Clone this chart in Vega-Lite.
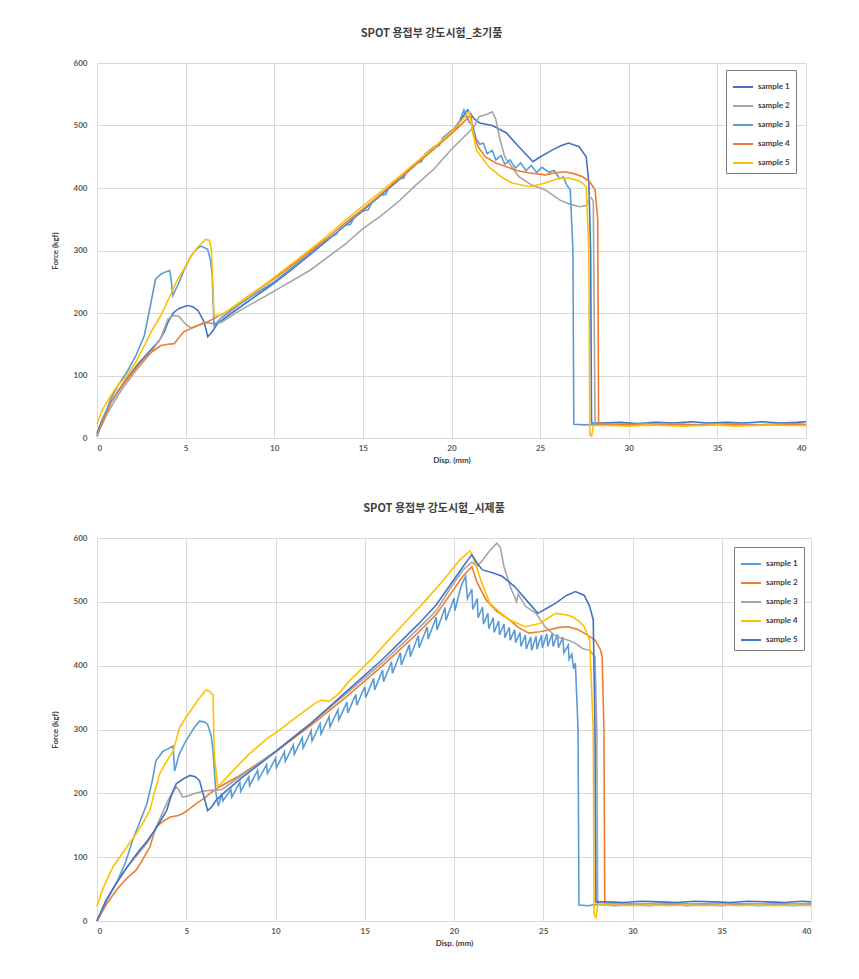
{
  "$schema": "https://vega.github.io/schema/vega-lite/v6.json",
  "padding": {"top": 28, "left": 51, "right": 5, "bottom": 5},
  "background": "white",
  "spacing": 39,
  "align": "none",
  "resolve": {"scale": {"color": "independent"}, "legend": {"color": "independent"}},
  "config": {
    "view": {"stroke": null},
    "font": "Lato",
    "axis": {"grid": true, "gridColor": "#d9d9d9", "domainColor": "#d9d9d9", "ticks": false, "labelColor": "#595959", "labelFontSize": 8, "labelFontWeight": "bold", "labelFont": "Lato", "titleFont": "Lato", "titleFontSize": 8, "titleFontWeight": "bold", "titleColor": "#404040"},
    "title": {"font": "Noto Sans CJK KR", "fontSize": 11, "fontWeight": "bold", "color": "#404040", "dx": -20, "offset": 20},
    "legend": {"title": null, "orient": "none", "symbolType": "stroke", "symbolStrokeWidth": 2, "symbolSize": 400, "labelFontSize": 8, "labelFont": "Lato", "labelFontWeight": "bold", "labelColor": "#404040", "strokeColor": "#7f7f7f", "fillColor": "white", "padding": 6, "rowPadding": 4, "labelOffset": 4}
  },
  "vconcat": [
    {
      "title": "SPOT 용접부 강도시험_초기품",
      "width": 709, "height": 375,
      "data": {"values": [
        {"s":"sample 1","x":0,"y":8},{"s":"sample 1","x":0.3,"y":30},{"s":"sample 1","x":0.8,"y":58},{"s":"sample 1","x":1.5,"y":88},{"s":"sample 1","x":2.3,"y":118},{"s":"sample 1","x":3.0,"y":140},{"s":"sample 1","x":3.5,"y":155},{"s":"sample 1","x":3.8,"y":170},{"s":"sample 1","x":4.0,"y":185},{"s":"sample 1","x":4.3,"y":200},{"s":"sample 1","x":4.6,"y":207},{"s":"sample 1","x":5.1,"y":212},{"s":"sample 1","x":5.4,"y":210},{"s":"sample 1","x":5.7,"y":204},{"s":"sample 1","x":6.05,"y":185},{"s":"sample 1","x":6.25,"y":162},{"s":"sample 1","x":6.5,"y":170},{"s":"sample 1","x":6.8,"y":183},{"s":"sample 1","x":7.5,"y":198},{"s":"sample 1","x":8.5,"y":218},{"s":"sample 1","x":10,"y":248},{"s":"sample 1","x":11,"y":270},{"s":"sample 1","x":12,"y":293},{"s":"sample 1","x":13,"y":316},{"s":"sample 1","x":14,"y":340},{"s":"sample 1","x":15,"y":364},{"s":"sample 1","x":16,"y":388},{"s":"sample 1","x":17,"y":412},{"s":"sample 1","x":18,"y":438},{"s":"sample 1","x":19,"y":463},{"s":"sample 1","x":20,"y":490},{"s":"sample 1","x":20.5,"y":508},{"s":"sample 1","x":20.9,"y":525},{"s":"sample 1","x":21.3,"y":510},{"s":"sample 1","x":21.6,"y":504},{"s":"sample 1","x":22.3,"y":500},{"s":"sample 1","x":23.1,"y":488},{"s":"sample 1","x":23.8,"y":466},{"s":"sample 1","x":24.6,"y":442},{"s":"sample 1","x":24.9,"y":448},{"s":"sample 1","x":25.7,"y":461},{"s":"sample 1","x":26.2,"y":468},{"s":"sample 1","x":26.6,"y":472},{"s":"sample 1","x":27.2,"y":466},{"s":"sample 1","x":27.6,"y":450},{"s":"sample 1","x":27.75,"y":408},{"s":"sample 1","x":27.85,"y":300},{"s":"sample 1","x":27.9,"y":24},{"s":"sample 1","x":28.5,"y":24},{"s":"sample 1","x":29.5,"y":25},{"s":"sample 1","x":30.5,"y":23},{"s":"sample 1","x":31.5,"y":25},{"s":"sample 1","x":32.5,"y":24},{"s":"sample 1","x":33.5,"y":26},{"s":"sample 1","x":34.5,"y":24},{"s":"sample 1","x":35.5,"y":25},{"s":"sample 1","x":36.5,"y":24},{"s":"sample 1","x":37.5,"y":26},{"s":"sample 1","x":38.5,"y":24},{"s":"sample 1","x":39.5,"y":25},{"s":"sample 1","x":40,"y":26},

        {"s":"sample 2","x":0,"y":5},{"s":"sample 2","x":0.5,"y":35},{"s":"sample 2","x":1,"y":60},{"s":"sample 2","x":1.5,"y":82},{"s":"sample 2","x":2.2,"y":108},{"s":"sample 2","x":3.0,"y":135},{"s":"sample 2","x":3.6,"y":160},{"s":"sample 2","x":4.0,"y":190},{"s":"sample 2","x":4.3,"y":196},{"s":"sample 2","x":4.6,"y":195},{"s":"sample 2","x":5.0,"y":182},{"s":"sample 2","x":5.3,"y":176},{"s":"sample 2","x":5.7,"y":180},{"s":"sample 2","x":6.05,"y":185},{"s":"sample 2","x":6.6,"y":183},{"s":"sample 2","x":7,"y":185},{"s":"sample 2","x":8,"y":203},{"s":"sample 2","x":10,"y":235},{"s":"sample 2","x":12,"y":268},{"s":"sample 2","x":14,"y":310},{"s":"sample 2","x":15,"y":335},{"s":"sample 2","x":16,"y":355},{"s":"sample 2","x":17,"y":378},{"s":"sample 2","x":18,"y":405},{"s":"sample 2","x":19,"y":430},{"s":"sample 2","x":20,"y":462},{"s":"sample 2","x":21,"y":490},{"s":"sample 2","x":21.3,"y":500},{"s":"sample 2","x":21.56,"y":514},{"s":"sample 2","x":22.0,"y":518},{"s":"sample 2","x":22.3,"y":522},{"s":"sample 2","x":22.5,"y":510},{"s":"sample 2","x":22.7,"y":482},{"s":"sample 2","x":23.0,"y":450},{"s":"sample 2","x":23.8,"y":418},{"s":"sample 2","x":24.5,"y":405},{"s":"sample 2","x":25.3,"y":397},{"s":"sample 2","x":26.1,"y":381},{"s":"sample 2","x":26.6,"y":375},{"s":"sample 2","x":27.2,"y":370},{"s":"sample 2","x":27.6,"y":372},{"s":"sample 2","x":27.8,"y":386},{"s":"sample 2","x":28.0,"y":380},{"s":"sample 2","x":28.05,"y":200},{"s":"sample 2","x":28.1,"y":21},{"s":"sample 2","x":29,"y":22},{"s":"sample 2","x":30,"y":21},{"s":"sample 2","x":31,"y":23},{"s":"sample 2","x":32,"y":21},{"s":"sample 2","x":33,"y":22},{"s":"sample 2","x":34,"y":21},{"s":"sample 2","x":35,"y":23},{"s":"sample 2","x":36,"y":22},{"s":"sample 2","x":37,"y":21},{"s":"sample 2","x":38,"y":22},{"s":"sample 2","x":39,"y":23},{"s":"sample 2","x":40,"y":22},

        {"s":"sample 3","x":0,"y":2},{"s":"sample 3","x":0.4,"y":35},{"s":"sample 3","x":0.8,"y":64},{"s":"sample 3","x":1.2,"y":85},{"s":"sample 3","x":1.7,"y":106},{"s":"sample 3","x":2.2,"y":132},{"s":"sample 3","x":2.67,"y":164},{"s":"sample 3","x":3.0,"y":210},{"s":"sample 3","x":3.3,"y":254},{"s":"sample 3","x":3.6,"y":262},{"s":"sample 3","x":3.8,"y":265},{"s":"sample 3","x":4.1,"y":268},{"s":"sample 3","x":4.2,"y":250},{"s":"sample 3","x":4.27,"y":228},{"s":"sample 3","x":4.55,"y":244},{"s":"sample 3","x":4.9,"y":268},{"s":"sample 3","x":5.3,"y":291},{"s":"sample 3","x":5.6,"y":302},{"s":"sample 3","x":5.86,"y":307},{"s":"sample 3","x":6.24,"y":302},{"s":"sample 3","x":6.4,"y":285},{"s":"sample 3","x":6.5,"y":260},{"s":"sample 3","x":6.6,"y":180},{"s":"sample 3","x":7,"y":192},{"s":"sample 3","x":8,"y":213},{"s":"sample 3","x":9,"y":232},{"s":"sample 3","x":10,"y":250},{"s":"sample 3","x":11,"y":272},{"s":"sample 3","x":12,"y":295},{"s":"sample 3","x":13,"y":318},{"s":"sample 3","x":13.5,"y":326},{"s":"sample 3","x":13.7,"y":334},{"s":"sample 3","x":14,"y":340},{"s":"sample 3","x":14.3,"y":342},{"s":"sample 3","x":14.5,"y":352},{"s":"sample 3","x":15,"y":363},{"s":"sample 3","x":15.3,"y":365},{"s":"sample 3","x":15.5,"y":376},{"s":"sample 3","x":16,"y":388},{"s":"sample 3","x":16.3,"y":390},{"s":"sample 3","x":16.5,"y":402},{"s":"sample 3","x":17,"y":414},{"s":"sample 3","x":17.3,"y":416},{"s":"sample 3","x":17.5,"y":428},{"s":"sample 3","x":18,"y":440},{"s":"sample 3","x":18.3,"y":442},{"s":"sample 3","x":18.5,"y":454},{"s":"sample 3","x":19,"y":466},{"s":"sample 3","x":19.3,"y":468},{"s":"sample 3","x":19.5,"y":480},{"s":"sample 3","x":20,"y":492},{"s":"sample 3","x":20.3,"y":495},{"s":"sample 3","x":20.7,"y":525},{"s":"sample 3","x":21.0,"y":505},{"s":"sample 3","x":21.2,"y":500},{"s":"sample 3","x":21.4,"y":478},{"s":"sample 3","x":21.6,"y":470},{"s":"sample 3","x":21.8,"y":472},{"s":"sample 3","x":22.0,"y":455},{"s":"sample 3","x":22.3,"y":460},{"s":"sample 3","x":22.5,"y":445},{"s":"sample 3","x":22.8,"y":452},{"s":"sample 3","x":23.0,"y":438},{"s":"sample 3","x":23.3,"y":445},{"s":"sample 3","x":23.6,"y":432},{"s":"sample 3","x":23.9,"y":440},{"s":"sample 3","x":24.2,"y":428},{"s":"sample 3","x":24.5,"y":436},{"s":"sample 3","x":24.8,"y":425},{"s":"sample 3","x":25.1,"y":433},{"s":"sample 3","x":25.5,"y":425},{"s":"sample 3","x":25.8,"y":428},{"s":"sample 3","x":26.1,"y":415},{"s":"sample 3","x":26.3,"y":418},{"s":"sample 3","x":26.5,"y":405},{"s":"sample 3","x":26.7,"y":397},{"s":"sample 3","x":26.85,"y":300},{"s":"sample 3","x":26.9,"y":22},{"s":"sample 3","x":27.5,"y":21},{"s":"sample 3","x":28.5,"y":22},{"s":"sample 3","x":29.5,"y":21},{"s":"sample 3","x":30.5,"y":22},{"s":"sample 3","x":31.5,"y":21},{"s":"sample 3","x":32.5,"y":22},{"s":"sample 3","x":33.5,"y":21},{"s":"sample 3","x":34.5,"y":22},{"s":"sample 3","x":35.5,"y":21},{"s":"sample 3","x":36.5,"y":22},{"s":"sample 3","x":37.5,"y":21},{"s":"sample 3","x":38.5,"y":22},{"s":"sample 3","x":40,"y":21},

        {"s":"sample 4","x":0,"y":5},{"s":"sample 4","x":0.4,"y":30},{"s":"sample 4","x":0.8,"y":58},{"s":"sample 4","x":1.3,"y":80},{"s":"sample 4","x":1.73,"y":95},{"s":"sample 4","x":2.2,"y":112},{"s":"sample 4","x":2.67,"y":127},{"s":"sample 4","x":3.1,"y":138},{"s":"sample 4","x":3.6,"y":148},{"s":"sample 4","x":4.0,"y":150},{"s":"sample 4","x":4.36,"y":151},{"s":"sample 4","x":4.6,"y":160},{"s":"sample 4","x":4.9,"y":170},{"s":"sample 4","x":5.3,"y":175},{"s":"sample 4","x":5.7,"y":180},{"s":"sample 4","x":6.1,"y":184},{"s":"sample 4","x":6.6,"y":191},{"s":"sample 4","x":7.5,"y":205},{"s":"sample 4","x":8.5,"y":226},{"s":"sample 4","x":10,"y":255},{"s":"sample 4","x":11,"y":276},{"s":"sample 4","x":12,"y":298},{"s":"sample 4","x":13,"y":320},{"s":"sample 4","x":14,"y":344},{"s":"sample 4","x":15,"y":366},{"s":"sample 4","x":16,"y":390},{"s":"sample 4","x":17,"y":414},{"s":"sample 4","x":18,"y":438},{"s":"sample 4","x":19,"y":462},{"s":"sample 4","x":20,"y":487},{"s":"sample 4","x":20.6,"y":503},{"s":"sample 4","x":21.1,"y":518},{"s":"sample 4","x":21.2,"y":488},{"s":"sample 4","x":21.5,"y":466},{"s":"sample 4","x":21.9,"y":450},{"s":"sample 4","x":22.5,"y":440},{"s":"sample 4","x":23.1,"y":434},{"s":"sample 4","x":23.7,"y":428},{"s":"sample 4","x":24.4,"y":424},{"s":"sample 4","x":25.3,"y":421},{"s":"sample 4","x":25.8,"y":424},{"s":"sample 4","x":26.4,"y":426},{"s":"sample 4","x":26.9,"y":423},{"s":"sample 4","x":27.4,"y":418},{"s":"sample 4","x":27.8,"y":410},{"s":"sample 4","x":28.1,"y":397},{"s":"sample 4","x":28.25,"y":350},{"s":"sample 4","x":28.3,"y":22},{"s":"sample 4","x":29,"y":21},{"s":"sample 4","x":30,"y":22},{"s":"sample 4","x":31,"y":20},{"s":"sample 4","x":32,"y":21},{"s":"sample 4","x":33,"y":22},{"s":"sample 4","x":34,"y":20},{"s":"sample 4","x":35,"y":21},{"s":"sample 4","x":36,"y":22},{"s":"sample 4","x":37,"y":20},{"s":"sample 4","x":38,"y":21},{"s":"sample 4","x":39,"y":22},{"s":"sample 4","x":40,"y":21},

        {"s":"sample 5","x":0,"y":22},{"s":"sample 5","x":0.3,"y":45},{"s":"sample 5","x":0.8,"y":69},{"s":"sample 5","x":1.2,"y":85},{"s":"sample 5","x":1.7,"y":100},{"s":"sample 5","x":2.2,"y":122},{"s":"sample 5","x":2.67,"y":148},{"s":"sample 5","x":3.1,"y":172},{"s":"sample 5","x":3.6,"y":196},{"s":"sample 5","x":4.1,"y":226},{"s":"sample 5","x":4.55,"y":254},{"s":"sample 5","x":5.0,"y":275},{"s":"sample 5","x":5.3,"y":291},{"s":"sample 5","x":5.7,"y":306},{"s":"sample 5","x":6.15,"y":318},{"s":"sample 5","x":6.35,"y":316},{"s":"sample 5","x":6.45,"y":300},{"s":"sample 5","x":6.55,"y":240},{"s":"sample 5","x":6.6,"y":196},{"s":"sample 5","x":7,"y":196},{"s":"sample 5","x":8,"y":216},{"s":"sample 5","x":9,"y":236},{"s":"sample 5","x":10,"y":257},{"s":"sample 5","x":11,"y":279},{"s":"sample 5","x":12,"y":301},{"s":"sample 5","x":13,"y":324},{"s":"sample 5","x":14,"y":348},{"s":"sample 5","x":15,"y":371},{"s":"sample 5","x":16,"y":394},{"s":"sample 5","x":17,"y":417},{"s":"sample 5","x":18,"y":441},{"s":"sample 5","x":19,"y":465},{"s":"sample 5","x":20,"y":490},{"s":"sample 5","x":20.7,"y":512},{"s":"sample 5","x":21.0,"y":522},{"s":"sample 5","x":21.2,"y":490},{"s":"sample 5","x":21.4,"y":461},{"s":"sample 5","x":22.1,"y":434},{"s":"sample 5","x":22.8,"y":418},{"s":"sample 5","x":23.4,"y":408},{"s":"sample 5","x":24.4,"y":402},{"s":"sample 5","x":25.3,"y":408},{"s":"sample 5","x":26.1,"y":416},{"s":"sample 5","x":26.6,"y":416},{"s":"sample 5","x":27.0,"y":413},{"s":"sample 5","x":27.3,"y":410},{"s":"sample 5","x":27.6,"y":402},{"s":"sample 5","x":27.75,"y":300},{"s":"sample 5","x":27.8,"y":5},{"s":"sample 5","x":27.9,"y":3},{"s":"sample 5","x":28.0,"y":20},{"s":"sample 5","x":29,"y":20},{"s":"sample 5","x":30,"y":19},{"s":"sample 5","x":31,"y":21},{"s":"sample 5","x":32,"y":20},{"s":"sample 5","x":33,"y":19},{"s":"sample 5","x":34,"y":20},{"s":"sample 5","x":35,"y":21},{"s":"sample 5","x":36,"y":19},{"s":"sample 5","x":37,"y":20},{"s":"sample 5","x":38,"y":21},{"s":"sample 5","x":39,"y":20},{"s":"sample 5","x":40,"y":20}
      ]},
      "mark": {"type": "line", "strokeWidth": 1.6, "interpolate": "linear"},
      "encoding": {
        "x": {"field": "x", "type": "quantitative", "scale": {"domain": [0, 40], "nice": false}, "axis": {"values": [0,5,10,15,20,25,30,35,40], "title": "Disp. (mm)", "labelPadding": 6, "titlePadding": 4}},
        "y": {"field": "y", "type": "quantitative", "scale": {"domain": [0, 600], "nice": false}, "axis": {"values": [0,100,200,300,400,500,600], "title": "Force (kgf)", "labelPadding": 10, "titlePadding": 14}},
        "color": {"field": "s", "type": "nominal", "scale": {"domain": ["sample 1","sample 2","sample 3","sample 4","sample 5"], "range": ["#4472C4","#A5A5A5","#5B9BD5","#ED7D31","#FFC000"]}, "legend": {"legendX": 629, "legendY": 7}}
      }
    },
    {
      "title": "SPOT 용접부 강도시험_시제품",
      "width": 714, "height": 383,
      "data": {"values": [
        {"s":"sample 1","x":0,"y":0},{"s":"sample 1","x":0.5,"y":30},{"s":"sample 1","x":1.1,"y":60},{"s":"sample 1","x":1.6,"y":92},{"s":"sample 1","x":2.0,"y":127},{"s":"sample 1","x":2.4,"y":155},{"s":"sample 1","x":2.8,"y":184},{"s":"sample 1","x":3.1,"y":220},{"s":"sample 1","x":3.3,"y":251},{"s":"sample 1","x":3.7,"y":266},{"s":"sample 1","x":4.0,"y":270},{"s":"sample 1","x":4.26,"y":274},{"s":"sample 1","x":4.35,"y":235},{"s":"sample 1","x":4.6,"y":261},{"s":"sample 1","x":4.9,"y":278},{"s":"sample 1","x":5.2,"y":292},{"s":"sample 1","x":5.5,"y":305},{"s":"sample 1","x":5.74,"y":313},{"s":"sample 1","x":6.0,"y":312},{"s":"sample 1","x":6.2,"y":308},{"s":"sample 1","x":6.4,"y":290},{"s":"sample 1","x":6.5,"y":266},{"s":"sample 1","x":6.67,"y":199},{"s":"sample 1","x":6.8,"y":180},
        {"s":"sample 1","x":7.0,"y":200},{"s":"sample 1","x":7.05,"y":188},{"s":"sample 1","x":7.5,"y":206},{"s":"sample 1","x":7.55,"y":194},{"s":"sample 1","x":8.0,"y":217},{"s":"sample 1","x":8.05,"y":203},{"s":"sample 1","x":8.5,"y":226},{"s":"sample 1","x":8.55,"y":212},{"s":"sample 1","x":9.0,"y":236},{"s":"sample 1","x":9.05,"y":222},{"s":"sample 1","x":9.5,"y":245},{"s":"sample 1","x":9.55,"y":231},{"s":"sample 1","x":10.0,"y":255},{"s":"sample 1","x":10.05,"y":240},{"s":"sample 1","x":10.5,"y":265},{"s":"sample 1","x":10.55,"y":250},{"s":"sample 1","x":11.0,"y":276},{"s":"sample 1","x":11.05,"y":261},{"s":"sample 1","x":11.5,"y":287},{"s":"sample 1","x":11.55,"y":271},{"s":"sample 1","x":12.0,"y":298},{"s":"sample 1","x":12.05,"y":282},{"s":"sample 1","x":12.5,"y":309},{"s":"sample 1","x":12.55,"y":293},{"s":"sample 1","x":13.0,"y":320},{"s":"sample 1","x":13.05,"y":304},{"s":"sample 1","x":13.5,"y":331},{"s":"sample 1","x":13.55,"y":315},{"s":"sample 1","x":14.0,"y":343},{"s":"sample 1","x":14.05,"y":326},{"s":"sample 1","x":14.5,"y":355},{"s":"sample 1","x":14.55,"y":338},{"s":"sample 1","x":15.0,"y":367},{"s":"sample 1","x":15.05,"y":350},{"s":"sample 1","x":15.5,"y":380},{"s":"sample 1","x":15.55,"y":362},{"s":"sample 1","x":16.0,"y":393},{"s":"sample 1","x":16.05,"y":375},{"s":"sample 1","x":16.5,"y":406},{"s":"sample 1","x":16.55,"y":388},{"s":"sample 1","x":17.0,"y":420},{"s":"sample 1","x":17.05,"y":401},{"s":"sample 1","x":17.5,"y":433},{"s":"sample 1","x":17.55,"y":414},{"s":"sample 1","x":18.0,"y":447},{"s":"sample 1","x":18.05,"y":428},{"s":"sample 1","x":18.5,"y":461},{"s":"sample 1","x":18.55,"y":442},{"s":"sample 1","x":19.0,"y":476},{"s":"sample 1","x":19.05,"y":456},{"s":"sample 1","x":19.5,"y":491},{"s":"sample 1","x":19.55,"y":471},{"s":"sample 1","x":20.0,"y":506},{"s":"sample 1","x":20.05,"y":486},{"s":"sample 1","x":20.4,"y":525},{"s":"sample 1","x":20.65,"y":540},{"s":"sample 1","x":20.75,"y":505},{"s":"sample 1","x":21.0,"y":520},{"s":"sample 1","x":21.05,"y":488},{"s":"sample 1","x":21.3,"y":505},{"s":"sample 1","x":21.35,"y":475},{"s":"sample 1","x":21.6,"y":492},{"s":"sample 1","x":21.65,"y":465},{"s":"sample 1","x":21.9,"y":482},{"s":"sample 1","x":21.95,"y":458},{"s":"sample 1","x":22.2,"y":475},{"s":"sample 1","x":22.25,"y":452},{"s":"sample 1","x":22.5,"y":470},{"s":"sample 1","x":22.55,"y":448},{"s":"sample 1","x":22.8,"y":465},{"s":"sample 1","x":22.85,"y":444},{"s":"sample 1","x":23.1,"y":460},{"s":"sample 1","x":23.15,"y":440},{"s":"sample 1","x":23.4,"y":456},{"s":"sample 1","x":23.45,"y":436},{"s":"sample 1","x":23.7,"y":452},{"s":"sample 1","x":23.75,"y":430},{"s":"sample 1","x":24.0,"y":448},{"s":"sample 1","x":24.05,"y":426},{"s":"sample 1","x":24.3,"y":445},{"s":"sample 1","x":24.35,"y":424},{"s":"sample 1","x":24.6,"y":446},{"s":"sample 1","x":24.65,"y":426},{"s":"sample 1","x":24.9,"y":448},{"s":"sample 1","x":24.95,"y":428},{"s":"sample 1","x":25.2,"y":450},{"s":"sample 1","x":25.25,"y":430},{"s":"sample 1","x":25.5,"y":450},{"s":"sample 1","x":25.55,"y":430},{"s":"sample 1","x":25.8,"y":449},{"s":"sample 1","x":25.85,"y":428},{"s":"sample 1","x":26.1,"y":445},{"s":"sample 1","x":26.15,"y":420},{"s":"sample 1","x":26.4,"y":432},{"s":"sample 1","x":26.45,"y":410},{"s":"sample 1","x":26.6,"y":418},{"s":"sample 1","x":26.7,"y":395},{"s":"sample 1","x":26.8,"y":404},{"s":"sample 1","x":26.95,"y":300},{"s":"sample 1","x":27.0,"y":25},{"s":"sample 1","x":27.5,"y":24},{"s":"sample 1","x":28,"y":26},{"s":"sample 1","x":29,"y":24},{"s":"sample 1","x":30,"y":25},{"s":"sample 1","x":31,"y":24},{"s":"sample 1","x":32,"y":26},{"s":"sample 1","x":33,"y":24},{"s":"sample 1","x":34,"y":25},{"s":"sample 1","x":35,"y":24},{"s":"sample 1","x":36,"y":26},{"s":"sample 1","x":37,"y":24},{"s":"sample 1","x":38,"y":25},{"s":"sample 1","x":39,"y":24},{"s":"sample 1","x":40,"y":25},

        {"s":"sample 2","x":0,"y":0},{"s":"sample 2","x":0.5,"y":25},{"s":"sample 2","x":1.1,"y":49},{"s":"sample 2","x":1.6,"y":65},{"s":"sample 2","x":2.2,"y":80},{"s":"sample 2","x":2.6,"y":98},{"s":"sample 2","x":2.96,"y":116},{"s":"sample 2","x":3.3,"y":147},{"s":"sample 2","x":3.7,"y":156},{"s":"sample 2","x":4.1,"y":163},{"s":"sample 2","x":4.5,"y":165},{"s":"sample 2","x":4.8,"y":168},{"s":"sample 2","x":5.2,"y":176},{"s":"sample 2","x":5.55,"y":184},{"s":"sample 2","x":6.0,"y":192},{"s":"sample 2","x":6.3,"y":199},{"s":"sample 2","x":6.85,"y":210},{"s":"sample 2","x":8,"y":228},{"s":"sample 2","x":10,"y":265},{"s":"sample 2","x":12,"y":307},{"s":"sample 2","x":14,"y":352},{"s":"sample 2","x":16,"y":400},{"s":"sample 2","x":18,"y":452},{"s":"sample 2","x":19,"y":480},{"s":"sample 2","x":20,"y":520},{"s":"sample 2","x":20.5,"y":540},{"s":"sample 2","x":21.0,"y":555},{"s":"sample 2","x":21.3,"y":530},{"s":"sample 2","x":21.8,"y":503},{"s":"sample 2","x":22.4,"y":485},{"s":"sample 2","x":23.1,"y":472},{"s":"sample 2","x":23.6,"y":460},{"s":"sample 2","x":24.2,"y":451},{"s":"sample 2","x":24.8,"y":453},{"s":"sample 2","x":25.3,"y":456},{"s":"sample 2","x":25.9,"y":460},{"s":"sample 2","x":26.4,"y":461},{"s":"sample 2","x":26.9,"y":457},{"s":"sample 2","x":27.3,"y":451},{"s":"sample 2","x":27.9,"y":440},{"s":"sample 2","x":28.2,"y":425},{"s":"sample 2","x":28.3,"y":414},{"s":"sample 2","x":28.4,"y":300},{"s":"sample 2","x":28.45,"y":27},{"s":"sample 2","x":29,"y":26},{"s":"sample 2","x":30,"y":27},{"s":"sample 2","x":31,"y":26},{"s":"sample 2","x":32,"y":27},{"s":"sample 2","x":33,"y":26},{"s":"sample 2","x":34,"y":27},{"s":"sample 2","x":35,"y":26},{"s":"sample 2","x":36,"y":27},{"s":"sample 2","x":37,"y":26},{"s":"sample 2","x":38,"y":27},{"s":"sample 2","x":39,"y":26},{"s":"sample 2","x":40,"y":27},

        {"s":"sample 3","x":0,"y":0},{"s":"sample 3","x":0.5,"y":32},{"s":"sample 3","x":1.1,"y":60},{"s":"sample 3","x":1.7,"y":85},{"s":"sample 3","x":2.3,"y":105},{"s":"sample 3","x":2.8,"y":122},{"s":"sample 3","x":3.2,"y":140},{"s":"sample 3","x":3.6,"y":165},{"s":"sample 3","x":4.0,"y":190},{"s":"sample 3","x":4.44,"y":210},{"s":"sample 3","x":4.6,"y":205},{"s":"sample 3","x":4.8,"y":194},{"s":"sample 3","x":5.1,"y":196},{"s":"sample 3","x":5.5,"y":200},{"s":"sample 3","x":6.1,"y":204},{"s":"sample 3","x":6.6,"y":205},{"s":"sample 3","x":7,"y":206},{"s":"sample 3","x":8,"y":226},{"s":"sample 3","x":10,"y":266},{"s":"sample 3","x":12,"y":310},{"s":"sample 3","x":14,"y":357},{"s":"sample 3","x":16,"y":405},{"s":"sample 3","x":18,"y":458},{"s":"sample 3","x":19,"y":486},{"s":"sample 3","x":20,"y":530},{"s":"sample 3","x":20.5,"y":550},{"s":"sample 3","x":21.0,"y":562},{"s":"sample 3","x":21.3,"y":556},{"s":"sample 3","x":21.6,"y":565},{"s":"sample 3","x":22.0,"y":580},{"s":"sample 3","x":22.4,"y":592},{"s":"sample 3","x":22.6,"y":585},{"s":"sample 3","x":22.8,"y":555},{"s":"sample 3","x":23.2,"y":520},{"s":"sample 3","x":23.4,"y":508},{"s":"sample 3","x":23.5,"y":500},{"s":"sample 3","x":23.6,"y":512},{"s":"sample 3","x":24.0,"y":493},{"s":"sample 3","x":24.6,"y":482},{"s":"sample 3","x":25.1,"y":461},{"s":"sample 3","x":25.7,"y":446},{"s":"sample 3","x":26.4,"y":440},{"s":"sample 3","x":26.8,"y":435},{"s":"sample 3","x":27.2,"y":427},{"s":"sample 3","x":27.6,"y":424},{"s":"sample 3","x":27.9,"y":414},{"s":"sample 3","x":28.0,"y":300},{"s":"sample 3","x":28.05,"y":26},{"s":"sample 3","x":29,"y":27},{"s":"sample 3","x":30,"y":26},{"s":"sample 3","x":31,"y":27},{"s":"sample 3","x":32,"y":26},{"s":"sample 3","x":33,"y":27},{"s":"sample 3","x":34,"y":26},{"s":"sample 3","x":35,"y":27},{"s":"sample 3","x":36,"y":26},{"s":"sample 3","x":37,"y":27},{"s":"sample 3","x":38,"y":26},{"s":"sample 3","x":39,"y":27},{"s":"sample 3","x":40,"y":26},

        {"s":"sample 4","x":0,"y":23},{"s":"sample 4","x":0.3,"y":48},{"s":"sample 4","x":0.56,"y":65},{"s":"sample 4","x":0.9,"y":85},{"s":"sample 4","x":1.3,"y":101},{"s":"sample 4","x":1.7,"y":117},{"s":"sample 4","x":2.2,"y":137},{"s":"sample 4","x":2.6,"y":155},{"s":"sample 4","x":2.96,"y":173},{"s":"sample 4","x":3.2,"y":200},{"s":"sample 4","x":3.5,"y":230},{"s":"sample 4","x":3.9,"y":250},{"s":"sample 4","x":4.26,"y":266},{"s":"sample 4","x":4.63,"y":303},{"s":"sample 4","x":5.0,"y":320},{"s":"sample 4","x":5.37,"y":334},{"s":"sample 4","x":5.7,"y":348},{"s":"sample 4","x":6.1,"y":362},{"s":"sample 4","x":6.3,"y":360},{"s":"sample 4","x":6.5,"y":354},{"s":"sample 4","x":6.57,"y":261},{"s":"sample 4","x":6.76,"y":210},{"s":"sample 4","x":7.5,"y":232},{"s":"sample 4","x":8.5,"y":261},{"s":"sample 4","x":9.5,"y":285},{"s":"sample 4","x":10.4,"y":303},{"s":"sample 4","x":11.3,"y":322},{"s":"sample 4","x":12.2,"y":341},{"s":"sample 4","x":12.6,"y":346},{"s":"sample 4","x":13,"y":344},{"s":"sample 4","x":13.5,"y":355},{"s":"sample 4","x":14.1,"y":375},{"s":"sample 4","x":15.4,"y":411},{"s":"sample 4","x":16.5,"y":445},{"s":"sample 4","x":17.5,"y":475},{"s":"sample 4","x":18.5,"y":505},{"s":"sample 4","x":19.5,"y":537},{"s":"sample 4","x":20.3,"y":565},{"s":"sample 4","x":20.9,"y":580},{"s":"sample 4","x":21.2,"y":560},{"s":"sample 4","x":21.5,"y":534},{"s":"sample 4","x":22.0,"y":498},{"s":"sample 4","x":22.5,"y":485},{"s":"sample 4","x":23.1,"y":472},{"s":"sample 4","x":24.0,"y":461},{"s":"sample 4","x":24.8,"y":466},{"s":"sample 4","x":25.3,"y":475},{"s":"sample 4","x":25.7,"y":482},{"s":"sample 4","x":26.2,"y":480},{"s":"sample 4","x":26.6,"y":477},{"s":"sample 4","x":27.0,"y":470},{"s":"sample 4","x":27.3,"y":461},{"s":"sample 4","x":27.6,"y":440},{"s":"sample 4","x":27.8,"y":300},{"s":"sample 4","x":27.85,"y":10},{"s":"sample 4","x":27.95,"y":5},{"s":"sample 4","x":28.05,"y":25},{"s":"sample 4","x":29,"y":25},{"s":"sample 4","x":30,"y":24},{"s":"sample 4","x":31,"y":25},{"s":"sample 4","x":32,"y":24},{"s":"sample 4","x":33,"y":25},{"s":"sample 4","x":34,"y":24},{"s":"sample 4","x":35,"y":25},{"s":"sample 4","x":36,"y":24},{"s":"sample 4","x":37,"y":25},{"s":"sample 4","x":38,"y":24},{"s":"sample 4","x":39,"y":25},{"s":"sample 4","x":40,"y":24},

        {"s":"sample 5","x":0,"y":0},{"s":"sample 5","x":0.5,"y":32},{"s":"sample 5","x":1.1,"y":60},{"s":"sample 5","x":1.7,"y":85},{"s":"sample 5","x":2.3,"y":108},{"s":"sample 5","x":2.8,"y":125},{"s":"sample 5","x":3.3,"y":145},{"s":"sample 5","x":3.9,"y":173},{"s":"sample 5","x":4.2,"y":200},{"s":"sample 5","x":4.44,"y":215},{"s":"sample 5","x":4.8,"y":222},{"s":"sample 5","x":5.2,"y":228},{"s":"sample 5","x":5.5,"y":226},{"s":"sample 5","x":5.74,"y":220},{"s":"sample 5","x":6.0,"y":194},{"s":"sample 5","x":6.2,"y":173},{"s":"sample 5","x":6.4,"y":178},{"s":"sample 5","x":6.67,"y":189},{"s":"sample 5","x":7,"y":198},{"s":"sample 5","x":8,"y":222},{"s":"sample 5","x":10,"y":265},{"s":"sample 5","x":12,"y":310},{"s":"sample 5","x":14,"y":360},{"s":"sample 5","x":16,"y":410},{"s":"sample 5","x":18,"y":465},{"s":"sample 5","x":19,"y":495},{"s":"sample 5","x":20,"y":535},{"s":"sample 5","x":20.5,"y":555},{"s":"sample 5","x":21.0,"y":574},{"s":"sample 5","x":21.3,"y":560},{"s":"sample 5","x":21.6,"y":550},{"s":"sample 5","x":22.2,"y":545},{"s":"sample 5","x":22.7,"y":540},{"s":"sample 5","x":23.4,"y":524},{"s":"sample 5","x":24.2,"y":498},{"s":"sample 5","x":24.7,"y":482},{"s":"sample 5","x":25.2,"y":490},{"s":"sample 5","x":25.7,"y":498},{"s":"sample 5","x":26.3,"y":510},{"s":"sample 5","x":26.8,"y":516},{"s":"sample 5","x":27.3,"y":510},{"s":"sample 5","x":27.6,"y":493},{"s":"sample 5","x":27.8,"y":472},{"s":"sample 5","x":27.9,"y":300},{"s":"sample 5","x":27.95,"y":30},{"s":"sample 5","x":28.5,"y":30},{"s":"sample 5","x":29.5,"y":29},{"s":"sample 5","x":30.5,"y":31},{"s":"sample 5","x":31.5,"y":30},{"s":"sample 5","x":32.5,"y":29},{"s":"sample 5","x":33.5,"y":31},{"s":"sample 5","x":34.5,"y":30},{"s":"sample 5","x":35.5,"y":29},{"s":"sample 5","x":36.5,"y":31},{"s":"sample 5","x":37.5,"y":30},{"s":"sample 5","x":38.5,"y":29},{"s":"sample 5","x":39.5,"y":31},{"s":"sample 5","x":40,"y":30}
      ]},
      "mark": {"type": "line", "strokeWidth": 1.6, "interpolate": "linear"},
      "encoding": {
        "x": {"field": "x", "type": "quantitative", "scale": {"domain": [0, 40], "nice": false}, "axis": {"values": [0,5,10,15,20,25,30,35,40], "title": "Disp. (mm)", "labelPadding": 6, "titlePadding": 4}},
        "y": {"field": "y", "type": "quantitative", "scale": {"domain": [0, 600], "nice": false}, "axis": {"values": [0,100,200,300,400,500,600], "title": "Force (kgf)", "labelPadding": 10, "titlePadding": 14}},
        "color": {"field": "s", "type": "nominal", "scale": {"domain": ["sample 1","sample 2","sample 3","sample 4","sample 5"], "range": ["#5B9BD5","#ED7D31","#A5A5A5","#FFC000","#4472C4"]}, "legend": {"legendX": 637, "legendY": 9}}
      }
    }
  ]
}
